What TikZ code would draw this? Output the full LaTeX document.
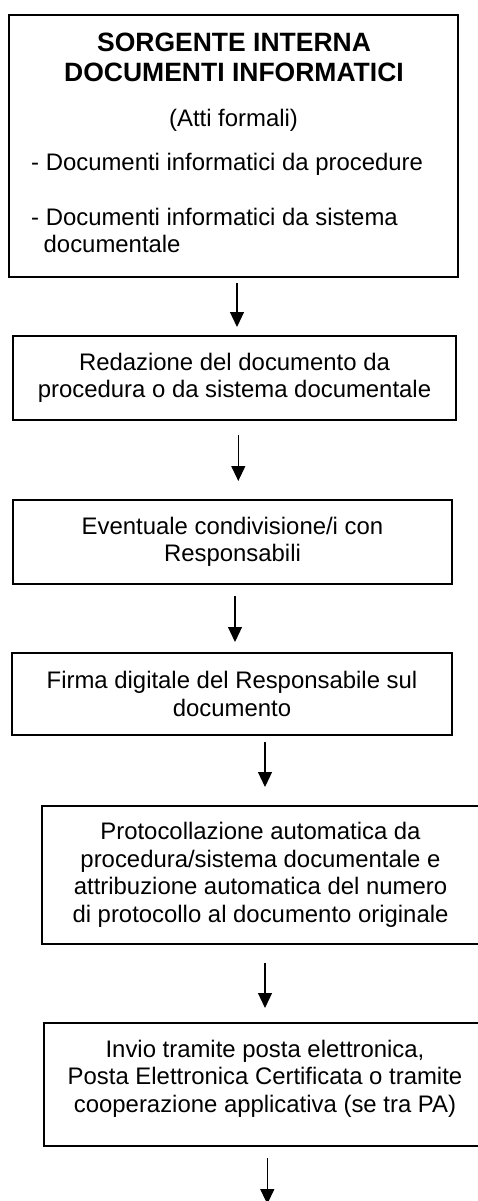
\documentclass[tikz,border=0pt]{standalone}
\usepackage{fontspec}
\setmainfont{Liberation Sans}
\usetikzlibrary{arrows.meta}
\newcommand\bodyfnt{\fontsize{23.9}{27.5}\selectfont}
\newcommand\titlefnt{\fontsize{26.5}{30}\selectfont\bfseries}
\begin{document}
\begin{tikzpicture}[x=1pt,y=-1pt,
  box/.style={draw, line width=1.2pt, inner sep=0pt, align=center, font=\bodyfnt},
  arr/.style={line width=1.2pt, -{Triangle[length=15pt,width=14pt]}},
  txt/.style={inner sep=0pt, anchor=base, font=\bodyfnt}]
\useasboundingbox (0,0) rectangle (477,1201);
\fill[white] (0,0) rectangle (477,1201);

% Box 1
\node[box, minimum width=449pt, minimum height=262pt] (b1) at (233.5,146) {};
\node[txt, font=\titlefnt] (t1a) at (234,51.7) {SORGENTE INTERNA};
\node[txt, font=\titlefnt] (t1b) at (234,81.7) {DOCUMENTI INFORMATICI};
\node[txt] (t1c) at (233.5,127) {(Atti formali)};
\node[txt, anchor=base west] (t1d) at (31,171) {- Documenti informatici da procedure};
\node[txt, anchor=base west] (t1e) at (31,225) {- Documenti informatici da sistema};
\node[txt, anchor=base west] (t1f) at (43.5,252.5) {documentale};

% Other boxes
\node[box, minimum width=443pt, minimum height=84pt] (b2) at (234.5,378)
  {Redazione del documento da\\procedura o da sistema documentale};
\node[box, minimum width=439pt, minimum height=84pt] (b3) at (232.5,542)
  {Eventuale condivisione/i con\\Responsabili};
\node[box, minimum width=440pt, minimum height=82pt] (b4) at (232,694)
  {Firma digitale del Responsabile sul\\documento};
\node[box, minimum width=437pt, minimum height=138pt] (b5) at (260.5,875)
  {Protocollazione automatica da\\procedura/sistema documentale e\\attribuzione automatica del numero\\di protocollo al documento originale};
\node[box, minimum width=442pt, minimum height=123pt, text depth=17pt] (b6) at (265,1084.5)
  {Invio tramite posta elettronica,\\Posta Elettronica Certificata o tramite\\cooperazione applicativa (se tra PA)};

% Arrow end points
\coordinate (a1s) at (237,283);   \coordinate (a1e) at (237,327);
\coordinate (a2s) at (238.3,435); \coordinate (a2e) at (238.3,481);
\coordinate (a3s) at (235,596);   \coordinate (a3e) at (235,642);
\coordinate (a4s) at (265,742);   \coordinate (a4e) at (265,787);
\coordinate (a5s) at (265,963);   \coordinate (a5e) at (265,1008);
\coordinate (a6s) at (267.3,1158);\coordinate (a6e) at (267.3,1204);

\draw[arr] (a1s) -- (a1e);
\draw[arr] (a2s) -- (a2e);
\draw[arr] (a3s) -- (a3e);
\draw[arr] (a4s) -- (a4e);
\draw[arr] (a5s) -- (a5e);
\draw[arr] (a6s) -- (a6e);
\end{tikzpicture}
\end{document}
